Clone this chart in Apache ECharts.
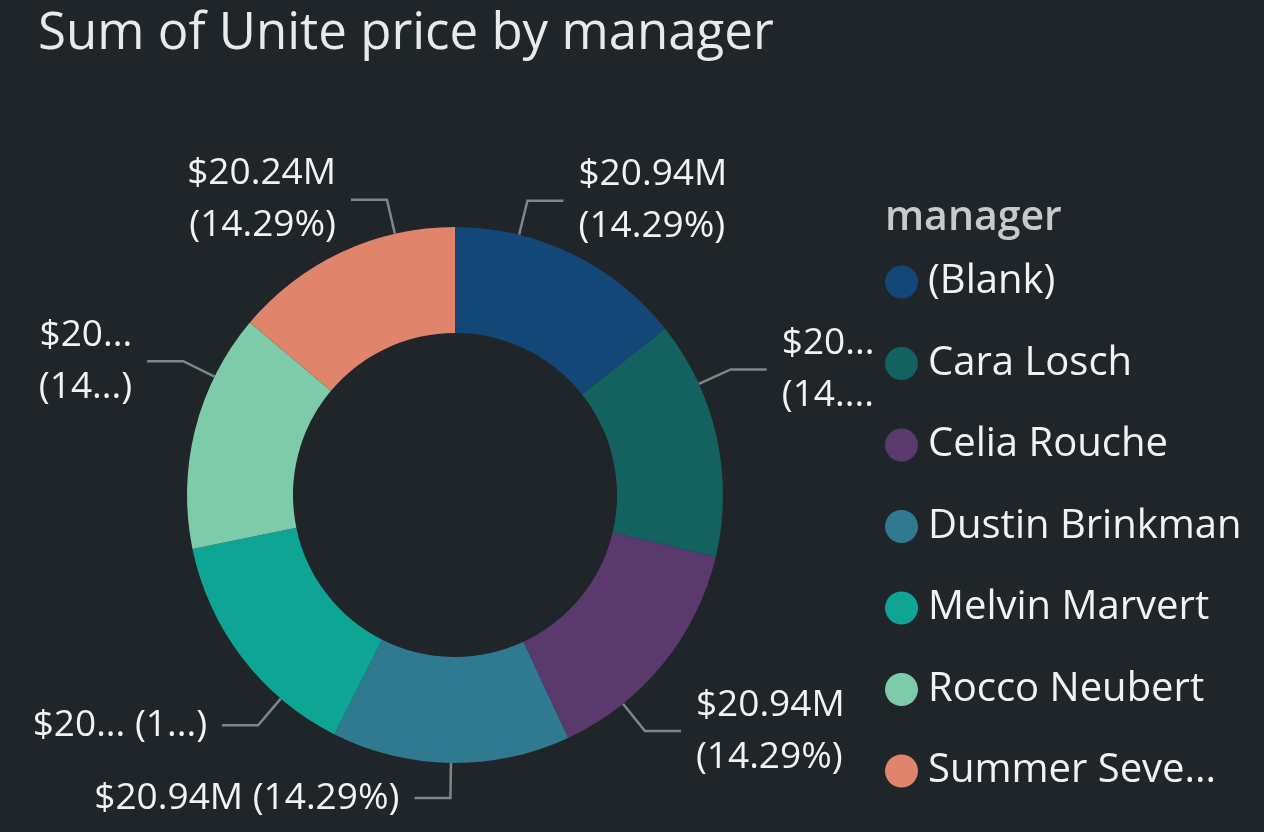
<!DOCTYPE html>
<html>
<head>
<meta charset="utf-8">
<title>Sum of Unite price by manager</title>
<script src="https://cdn.jsdelivr.net/npm/echarts@6/dist/echarts.min.js"></script>
<style>
    html, body { margin: 0; padding: 0; background: #1f2528; }
    #chart { width: 1264px; height: 832px; }
</style>
</head>
<body>
<div id="chart"></div>
<script>
var managers = ['(Blank)', 'Cara Losch', 'Celia Rouche', 'Dustin Brinkman', 'Melvin Marvert', 'Rocco Neubert', 'Summer Seve...'];
// sum of unite price, millions of $
var unitePrice = [20.94, 20.94, 20.94, 20.94, 20.94, 20.94, 20.24];
// data labels as shown (some cut off in the picture)
var labelTexts = [
    '$20.94M\n(14.29%)',
    '$20...\n(14....',
    '$20.94M\n(14.29%)',
    '$20.94M (14.29%)',
    '$20... (1...)',
    '$20...\n(14...)',
    '$20.24M\n(14.29%)'
];
var colors = ['#134777', '#14625f', '#5a3a6c', '#2f7a90', '#0fa594', '#7ecbaa', '#e0856c'];

(function(window, document, undefined) {
    var el = document.getElementById('chart'),
        chart = echarts.init(el, null, { renderer: 'canvas' }),
        font = '"Open Sans", "Noto Sans", sans-serif',
        center = [455, 495],
        outerR = 268,
        lineLen = 35,
        lineLen2 = 36,
        textGap = 15,
        // leader lines sit a bit away from the horizontal, like Power BI draws them
        spread = 12,
        data = [],
        total = 0,
        midAngles = [];

    managers.forEach(function(name, i) {
        data.push({
            name: name,
            value: unitePrice[i],
            itemStyle: { color: colors[i] }
        });
        total += unitePrice[i];
    });

    // mid angle of each slice, degrees clockwise from 12 o'clock
    (function() {
        var acc = 0;
        unitePrice.forEach(function(v) {
            midAngles.push((acc + v / 2) / total * 360);
            acc += v;
        });
    })();

    function leaderLayout(p) {
        var a = midAngles[p.dataIndex],
            right = a < 180,
            side = right ? 1 : -1,
            horiz = right ? 90 : 270,
            rad, sx, sy, p1, p2, p3;

        if (Math.abs(a - 180) > 5 && Math.abs(a) > 5) {
            a += (a < horiz ? -spread : spread);
        }
        if (Math.abs(a - 180) <= 5) {
            side = -1;
        }
        rad = a * Math.PI / 180;
        sx = Math.sin(rad);
        sy = -Math.cos(rad);
        p1 = [center[0] + outerR * sx, center[1] + outerR * sy];
        p2 = [p1[0] + lineLen * sx, p1[1] + lineLen * sy];
        p3 = [p2[0] + side * lineLen2, p2[1]];

        return {
            x: p3[0] + side * textGap,
            y: p3[1],
            align: side > 0 ? 'left' : 'right',
            verticalAlign: 'middle',
            labelLinePoints: [p1, p2, p3]
        };
    }

    var option = {
        backgroundColor: '#1f2528',
        title: [{
            text: 'Sum of Unite price by manager',
            left: 33,
            top: 4,
            textStyle: { color: '#e9e9e9', fontSize: 51, fontWeight: 'normal', fontFamily: font }
        }, {
            text: 'manager',
            left: 880,
            top: 193,
            textStyle: { color: '#c9c9c9', fontSize: 41, fontWeight: 600, fontFamily: font }
        }],
        legend: {
            orient: 'vertical',
            left: 880,
            top: 255,
            icon: 'circle',
            itemWidth: 33,
            itemHeight: 33,
            itemGap: 37.5,
            selectedMode: false,
            data: managers,
            textStyle: {
                color: '#f2f2f2',
                fontSize: 40,
                lineHeight: 44,
                fontFamily: font,
                padding: [0, 0, 0, 5]
            }
        },
        series: [{
            name: 'manager',
            type: 'pie',
            center: center,
            radius: [162, outerR],
            startAngle: 90,
            clockwise: true,
            silent: true,
            avoidLabelOverlap: false,
            data: data,
            label: {
                show: true,
                position: 'outside',
                overflow: 'none',
                color: '#f2f2f2',
                fontSize: 37,
                lineHeight: 52,
                fontFamily: font,
                formatter: function(p) {
                    return labelTexts[p.dataIndex];
                }
            },
            labelLine: {
                show: true,
                lineStyle: { color: '#80868a', width: 2.5 }
            },
            labelLayout: leaderLayout
        }]
    };

    chart.setOption(option);
})(window, document);
</script>
</body>
</html>
